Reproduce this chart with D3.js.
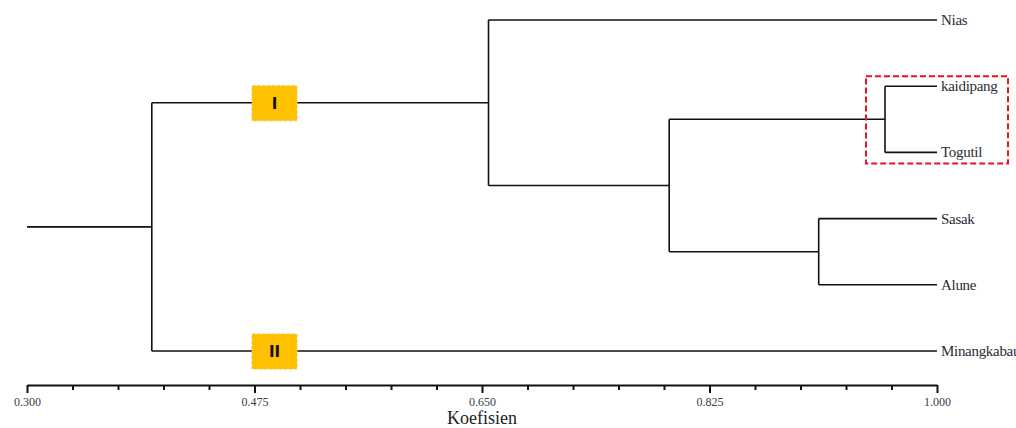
<!DOCTYPE html>
<html><head><meta charset="utf-8">
<script src="https://cdn.jsdelivr.net/npm/d3@7"></script>
<style>body{margin:0;background:#fff;} svg{display:block;}</style>
</head><body>
<svg id="c" width="1016" height="428"></svg>
<script>
// Data
const leaves = ["Nias", "kaidipang", "Togutil", "Sasak", "Alune", "Minangkabau"];
const mergeNames = ["kaidipang+Togutil", "Sasak+Alune", "inner", "I", "root"];
const mergeValues = [0.960, 0.909, 0.794, 0.655, 0.396];
const majorTicks = [0.300, 0.475, 0.650, 0.825, 1.000];
const minorTicks = [0.335,0.370,0.405,0.440,0.510,0.545,0.580,0.615,0.685,0.720,0.755,0.790,0.860,0.895,0.930,0.965];
const clusterLabels = ["I", "II"];
const axisTitle = "Koefisien";

const mv = Object.fromEntries(mergeNames.map((n,i)=>[n, mergeValues[i]]));
const L = n => ({name:n, value:1.0});
const treeData = {name:"root", value:mv["root"], children:[
  {name:"I", value:mv["I"], children:[
    L("Nias"),
    {name:"inner", value:mv["inner"], children:[
      {name:"kaidipang+Togutil", value:mv["kaidipang+Togutil"], children:[L("kaidipang"), L("Togutil")]},
      {name:"Sasak+Alune", value:mv["Sasak+Alune"], children:[L("Sasak"), L("Alune")]}
    ]}
  ]},
  L("Minangkabau")
]};

const svg = d3.select("#c");
const x = d3.scaleLinear().domain([0.3, 1.0]).range([27, 937]);
const y = d3.scalePoint().domain(leaves).range([20, 351]);

const root = d3.hierarchy(treeData);
root.eachAfter(d => {
  d.px = x(d.data.value);
  d.py = d.children ? d3.mean(d.children, c => c.py) : y(d.data.name);
});

const g = svg.append("g").attr("stroke", "#111").attr("stroke-width", 1.6).attr("fill", "none");
// root stem
g.append("line").attr("x1", x(0.3)).attr("x2", root.px).attr("y1", root.py).attr("y2", root.py);
root.each(d => {
  if (!d.children) return;
  const ys = d.children.map(c => c.py);
  g.append("line").attr("x1", d.px).attr("x2", d.px).attr("y1", d3.min(ys)).attr("y2", d3.max(ys));
  d.children.forEach(c => {
    g.append("line").attr("x1", d.px).attr("x2", c.px).attr("y1", c.py).attr("y2", c.py);
  });
});

// leaf labels
root.leaves().forEach(d => {
  svg.append("text").attr("x", d.px + 4).attr("y", d.py + 5)
    .attr("font-family", "Liberation Serif, Times New Roman, serif").attr("font-size", 15)
    .attr("letter-spacing", -0.3)
    .attr("fill", "#2b2b33").text(d.data.name);
});

// cluster badges
const badgeX = x(0.475) + 20;
const badgeNodes = [root.children[0], root.children[1]];
badgeNodes.forEach((d, i) => {
  const bx = badgeX, by = d.py;
  svg.append("rect").attr("x", bx - 22.5).attr("y", by - 17).attr("width", 45).attr("height", 35)
    .attr("fill", "#FFC000").attr("stroke", "#f5c640").attr("stroke-width", 1).attr("stroke-dasharray", "3,2");
  svg.append("text").attr("x", bx).attr("y", by + 6).attr("text-anchor", "middle")
    .attr("font-family", "DejaVu Sans, sans-serif").attr("font-weight", "bold").attr("font-size", 15)
    .attr("fill", "#111").text(clusterLabels[i]);
});

// red dashed box around kaidipang + Togutil
const kt = root.descendants().find(d => d.data.name === "kaidipang+Togutil");
const boxL = kt.px - 19, boxR = 1008;
const boxT = y("kaidipang") - 10, boxB = y("Togutil") + 11;
svg.append("rect").attr("x", boxL).attr("y", boxT).attr("width", boxR - boxL).attr("height", boxB - boxT)
  .attr("fill", "none").attr("stroke", "#e8141c").attr("stroke-width", 2).attr("stroke-dasharray", "6,3");

// axis
const axisY = 385;
const ax = svg.append("g").attr("transform", `translate(0,${axisY})`)
  .call(d3.axisBottom(x).tickValues(majorTicks).tickSize(8).tickSizeOuter(0).tickFormat(d3.format(".3f")).tickPadding(4));
ax.select(".domain").attr("stroke", "#111").attr("stroke-width", 2.2);
ax.selectAll(".tick line").attr("stroke", "#111").attr("stroke-width", 2);
ax.selectAll(".tick text").attr("font-family", "Liberation Serif, Times New Roman, serif").attr("font-size", 12).attr("fill", "#3a3a4a");
const ax2 = svg.append("g").attr("transform", `translate(0,${axisY})`)
  .call(d3.axisBottom(x).tickValues(minorTicks).tickSize(5).tickSizeOuter(0).tickFormat(""));
ax2.select(".domain").remove();
ax2.selectAll(".tick line").attr("stroke", "#111").attr("stroke-width", 2);

svg.append("text").attr("x", x(0.65)).attr("y", 424).attr("text-anchor", "middle")
  .attr("font-family", "Liberation Serif, Times New Roman, serif").attr("font-size", 18)
  .attr("fill", "#222").text(axisTitle);
</script>
</body></html>
